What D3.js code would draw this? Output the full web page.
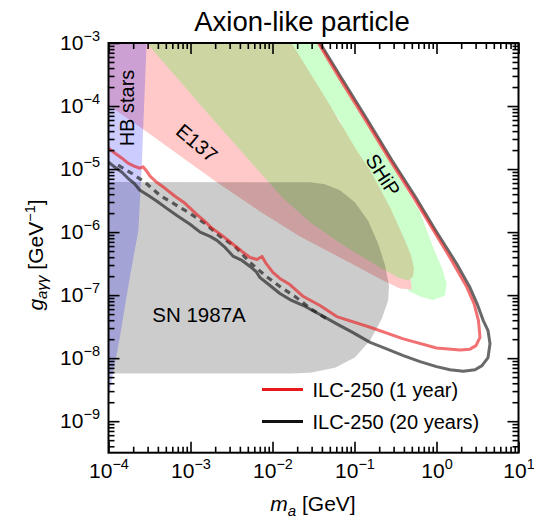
<!DOCTYPE html>
<html>
<head>
<meta charset="utf-8">
<script src="https://cdnjs.cloudflare.com/ajax/libs/d3/7.8.5/d3.min.js"></script>
<style>
  body { margin: 0; background: #fff; }
  svg text { font-family: "Liberation Sans", Arial, Helvetica, sans-serif; fill: #000; }
</style>
</head>
<body>
<svg id="chart" width="534" height="525"></svg>
<script>

// axis ticks (decades)
var xMajor = [1e-4, 1e-3, 1e-2, 1e-1, 1e0, 1e1];
var yMajor = [1e-9, 1e-8, 1e-7, 1e-6, 1e-5, 1e-4, 1e-3];

// regions, [m_a (GeV), g (GeV^-1)]
var hbStars = [[1e-4, 1e-3], [2.92e-4, 1e-3], [2.65e-4, 4.46e-5], [2.54e-4, 1.03e-5], [2.31e-4, 1.03e-6],
  [2.0e-4, 3.82e-7], [1.63e-4, 8.2e-8], [1.42e-4, 2.73e-8], [1.23e-4, 9.8e-9], [1.12e-4, 5.3e-9],
  [1.04e-4, 2.83e-9], [1e-4, 2.27e-9]];

var e137 = [[1e-4, 1e-3], [1e-4, 1.03e-4], [2.65e-4, 4.3e-5], [2.09e-3, 6.2e-6], [7.04e-3, 2.13e-6],
  [2.16e-2, 8.55e-7], [6.65e-2, 3.96e-7], [0.223, 1.7e-7], [0.359, 1.27e-7], [0.502, 1.23e-7],
  [0.475, 2.05e-7], [2.16e-2, 2.65e-6], [2.92e-4, 1e-3]];

var beamDump = [[2.92e-4, 1e-3], [1.58e-3, 8.0e-5], [5.32e-3, 1.33e-5], [1.35e-2, 3.44e-6], [2.87e-2, 1.43e-6],
  [7.66e-2, 5.93e-7], [0.205, 2.75e-7], [0.339, 1.9e-7], [0.449, 1.7e-7], [0.516, 1.98e-7],
  [0.532, 2.65e-7], [0.489, 4.27e-7], [0.413, 7.38e-7], [0.271, 2.47e-6], [0.155, 9.58e-6],
  [0.106, 1.99e-5], [5.02e-2, 1.03e-4], [1.71e-2, 1e-3]];

var ship = [[3.46e-2, 1e-3], [0.110, 8.6e-5], [0.312, 9.58e-6], [0.63, 2.06e-6], [0.906, 5.78e-7],
  [1.17, 2.65e-7], [1.33, 1.53e-7], [1.27, 9.86e-8], [0.906, 8.36e-8], [0.63, 9.5e-8],
  [0.449, 1.18e-7], [0.312, 3.55e-7], [6.65e-2, 5.97e-5], [1.23e-2, 1e-3]];

var sn1987a = [[1e-4, 6.24e-6], [2.87e-2, 6.17e-6], [4.37e-2, 5.73e-6], [6.65e-2, 4.6e-6], [0.101, 2.97e-6],
  [0.146, 1.53e-6], [0.194, 6.6e-7], [0.236, 2.96e-7], [0.264, 1.42e-7], [0.257, 8.2e-8],
  [0.216, 4.25e-8], [0.155, 1.9e-8], [0.101, 1.02e-8], [5.78e-2, 7.06e-9], [2.87e-2, 5.87e-9],
  [1.63e-2, 5.73e-9], [1e-4, 5.73e-9]];

// ILC-250 reach
var ilc1year = [[1.0e-4, 2.14e-5], [1.2e-4, 1.78e-5], [1.46e-4, 1.49e-5], [1.73e-4, 1.24e-5], [2.05e-4, 1.11e-5],
  [2.42e-4, 1.03e-5], [2.64e-4, 1.09e-5], [2.86e-4, 9.6e-6], [3.21e-4, 7.7e-6], [3.87e-4, 6.17e-6],
  [4.89e-4, 4.95e-6], [6.47e-4, 3.7e-6], [8.57e-4, 2.86e-6], [1.19e-3, 1.91e-6], [1.5e-3, 1.48e-6],
  [1.83e-3, 1.15e-6], [2.42e-3, 8.87e-7], [3.21e-3, 6.6e-7], [4.25e-3, 4.93e-7], [5.32e-3, 3.96e-7],
  [6.47e-3, 3.68e-7], [7.45e-3, 4.11e-7], [8.34e-3, 3.18e-7], [1.01e-2, 2.29e-7], [1.23e-2, 1.84e-7],
  [1.63e-2, 1.47e-7], [2.38e-2, 9.5e-8], [3.79e-2, 6.84e-8], [6.07e-2, 4.57e-8], [0.155, 3.09e-8],
  [0.394, 2.02e-8], [1.0, 1.45e-8], [1.94, 1.35e-8], [2.56, 1.39e-8], [3.03, 1.58e-8],
  [3.39, 2.14e-8], [3.25, 3.94e-8], [2.87, 7.34e-8], [2.34, 1.34e-7], [1.53, 3.55e-7],
  [0.906, 1.1e-6], [0.521, 3.6e-6], [0.271, 1.38e-5], [0.134, 6.19e-5], [6.65e-2, 2.68e-4],
  [3.62e-2, 1e-3]];

var ilc20years = [[1e-4, 1.28e-5], [1.2e-4, 1.07e-5], [1.46e-4, 8.89e-6], [1.73e-4, 7.14e-6], [2.05e-4, 5.95e-6],
  [2.42e-4, 4.6e-6], [3.03e-4, 3.83e-6], [3.9e-4, 3.08e-6], [5.13e-4, 2.38e-6], [7.04e-4, 1.78e-6],
  [9.87e-4, 1.33e-6], [1.31e-3, 1.0e-6], [1.73e-3, 8.55e-7], [2.1e-3, 7.38e-7], [2.64e-3, 5.71e-7],
  [3.33e-3, 4.11e-7], [4.25e-3, 3.55e-7], [5.32e-3, 2.85e-7], [6.3e-3, 2.37e-7], [7.05e-3, 1.9e-7],
  [9.33e-3, 1.42e-7], [1.23e-2, 1.06e-7], [1.63e-2, 8.5e-8], [2.38e-2, 6.84e-8], [3.79e-2, 4.92e-8],
  [6.07e-2, 3.5e-8], [9.6e-2, 2.54e-8], [0.155, 1.78e-8], [0.242, 1.42e-8], [0.394, 1.1e-8],
  [0.63, 8.8e-9], [1.0, 7.33e-9], [1.46, 6.56e-9], [2.12, 6.21e-9], [2.95, 6.56e-9],
  [3.59, 7.6e-9], [4.25, 1.02e-8], [4.49, 1.7e-8], [4.25, 2.73e-8], [3.72, 3.94e-8],
  [3.12, 7.34e-8], [2.56, 1.32e-7], [1.76, 3.15e-7], [0.96, 1.1e-6], [0.547, 3.7e-6],
  [0.286, 1.38e-5], [0.142, 6.19e-5], [7.05e-2, 2.68e-4], [3.79e-2, 1e-3]];

var ilc20yearsAlt = [[1.31e-4, 1.15e-5], [1.83e-4, 8.9e-6], [2.79e-4, 6.17e-6], [4.25e-4, 3.83e-6], [6.47e-4, 2.75e-6],
  [9.87e-4, 1.98e-6], [1.5e-3, 1.37e-6], [2.29e-3, 8.55e-7], [3.49e-3, 5.93e-7], [5.32e-3, 3.3e-7],
  [8.11e-3, 2.05e-7], [1.23e-2, 1.37e-7], [1.88e-2, 9.5e-8], [3.03e-2, 5.9e-8], [4.75e-2, 4.09e-8]];

var legendItems = [
  { label: "ILC-250 (1 year)", color: "#e8191a" },
  { label: "ILC-250 (20 years)", color: "#111111" }
];

var svg = d3.select("#chart");
var pLeft = 108.5, pRight = 518.5, pTop = 43, pBottom = 452.7;

var x = d3.scaleLog().domain([1e-4, 1e1]).range([pLeft, pRight]);
var y = d3.scaleLog().domain([Math.pow(10, -9.5), 1e-3]).range([pBottom, pTop]);

var line = d3.line().x(function(d) { return x(d[0]); }).y(function(d) { return y(d[1]); });

svg.append("clipPath").attr("id", "plot-clip")
  .append("rect").attr("x", pLeft).attr("y", pTop)
  .attr("width", pRight - pLeft).attr("height", pBottom - pTop);

var plot = svg.append("g").attr("clip-path", "url(#plot-clip)");

plot.append("path").attr("d", line(ship) + "Z").attr("fill", "#ccffcc");
plot.append("path").attr("d", line(e137) + "Z").attr("fill", "#ffc9c9");
plot.append("path").attr("d", line(beamDump) + "Z").attr("fill", "#cdd5a2");
plot.append("path").attr("d", line(sn1987a) + "Z").attr("fill", "#000").attr("fill-opacity", 0.2);
plot.append("path").attr("d", line(hbStars) + "Z").attr("fill", "#0000ff").attr("fill-opacity", 0.2);

plot.append("path").attr("d", line(ilc20yearsAlt))
  .attr("fill", "none").attr("stroke", "#222").attr("stroke-opacity", 0.7)
  .attr("stroke-width", 3.2).attr("stroke-dasharray", "6,5");
plot.append("path").attr("d", line(ilc20years))
  .attr("fill", "none").attr("stroke", "#222").attr("stroke-opacity", 0.68)
  .attr("stroke-width", 3).attr("stroke-linejoin", "round");
plot.append("path").attr("d", line(ilc1year))
  .attr("fill", "none").attr("stroke", "#e8191a").attr("stroke-opacity", 0.62)
  .attr("stroke-width", 3).attr("stroke-linejoin", "round");

// region labels
svg.append("text").attr("transform", "translate(133.5,108) rotate(-90)")
  .attr("text-anchor", "middle").attr("font-size", 20).text("HB stars");
svg.append("text").attr("transform", "translate(197,143) rotate(40)")
  .attr("text-anchor", "middle").attr("dominant-baseline", "central").attr("font-size", 20).text("E137");
svg.append("text").attr("transform", "translate(383,175) rotate(57)")
  .attr("text-anchor", "middle").attr("dominant-baseline", "central").attr("font-size", 20).text("SHiP");
svg.append("text").attr("x", 199).attr("y", 322).attr("text-anchor", "middle")
  .attr("font-size", 20.5).text("SN 1987A");

// legend
var legend = svg.append("g");
legendItems.forEach(function(item, i) {
  var ly = 389.5 + i * 32;
  legend.append("line").attr("x1", 262).attr("x2", 303).attr("y1", ly).attr("y2", ly)
    .attr("stroke", item.color).attr("stroke-width", 3);
  legend.append("text").attr("x", 312.5).attr("y", ly + 7.5).attr("font-size", 20).text(item.label);
});

// axes
function minorTicks(lo, hi) {
  var out = [];
  for (var e = lo; e < hi; e++) {
    for (var k = 2; k <= 9; k++) out.push(k * Math.pow(10, e));
  }
  return out;
}
var xMinor = minorTicks(-4, 1);
var yMinor = minorTicks(-10, -3).filter(function(v) { return v >= Math.pow(10, -9.5); });

function expText(d) {
  var e = Math.round(Math.log10(d));
  return e < 0 ? "\u2212" + (-e) : String(e);
}

function powLabels(g) {
  g.selectAll(".tick text").each(function(d) {
    var t = d3.select(this).text("");
    t.append("tspan").text("10");
    t.append("tspan").attr("dy", -9).attr("font-size", 14.5).text(expText(d));
  });
}

function styleAxis(g) {
  g.select(".domain").remove();
  g.selectAll(".tick line").attr("stroke", "#000").attr("stroke-width", 1.6);
  g.selectAll(".tick text").attr("font-size", 21).attr("fill", "#000")
    .attr("font-family", "Liberation Sans, Arial, sans-serif");
}

svg.append("g").attr("transform", "translate(0," + pBottom + ")")
  .call(d3.axisBottom(x).tickValues(xMajor).tickSize(-11).tickPadding(10.5))
  .call(styleAxis).call(powLabels);
svg.append("g").attr("transform", "translate(0," + pBottom + ")")
  .call(d3.axisBottom(x).tickValues(xMinor).tickSize(-6).tickFormat(""))
  .call(styleAxis);
svg.append("g").attr("transform", "translate(0," + pTop + ")")
  .call(d3.axisTop(x).tickValues(xMajor).tickSize(-11).tickFormat(""))
  .call(styleAxis);
svg.append("g").attr("transform", "translate(0," + pTop + ")")
  .call(d3.axisTop(x).tickValues(xMinor).tickSize(-6).tickFormat(""))
  .call(styleAxis);

svg.append("g").attr("transform", "translate(" + pLeft + ",0)")
  .call(d3.axisLeft(y).tickValues(yMajor).tickSize(-11).tickPadding(8.5))
  .call(styleAxis).call(powLabels);
svg.append("g").attr("transform", "translate(" + pLeft + ",0)")
  .call(d3.axisLeft(y).tickValues(yMinor).tickSize(-6).tickFormat(""))
  .call(styleAxis);
svg.append("g").attr("transform", "translate(" + pRight + ",0)")
  .call(d3.axisRight(y).tickValues(yMajor).tickSize(-11).tickFormat(""))
  .call(styleAxis);
svg.append("g").attr("transform", "translate(" + pRight + ",0)")
  .call(d3.axisRight(y).tickValues(yMinor).tickSize(-6).tickFormat(""))
  .call(styleAxis);

svg.append("rect").attr("x", pLeft).attr("y", pTop)
  .attr("width", pRight - pLeft).attr("height", pBottom - pTop)
  .attr("fill", "none").attr("stroke", "#000").attr("stroke-width", 2);

// titles
svg.append("text").attr("x", 302).attr("y", 31).attr("text-anchor", "middle")
  .attr("font-size", 27.5).text("Axion-like particle");

var xl = svg.append("text").attr("x", 313).attr("y", 511).attr("text-anchor", "middle").attr("font-size", 21);
xl.append("tspan").attr("font-style", "italic").text("m");
xl.append("tspan").attr("font-style", "italic").attr("font-size", 15).attr("dy", 5).text("a");
xl.append("tspan").attr("dy", -5).text(" [GeV]");

var yl = svg.append("text").attr("transform", "translate(43,255) rotate(-90)")
  .attr("text-anchor", "middle").attr("font-size", 21);
yl.append("tspan").attr("font-style", "italic").text("g");
yl.append("tspan").attr("font-style", "italic").attr("font-size", 15).attr("dy", 4).text("a\u03b3\u03b3");
yl.append("tspan").attr("dy", -4).text(" [GeV");
yl.append("tspan").attr("font-size", 14.5).attr("dy", -8).text("\u22121");
yl.append("tspan").attr("dy", 8).text("]");

</script>
</body>
</html>
